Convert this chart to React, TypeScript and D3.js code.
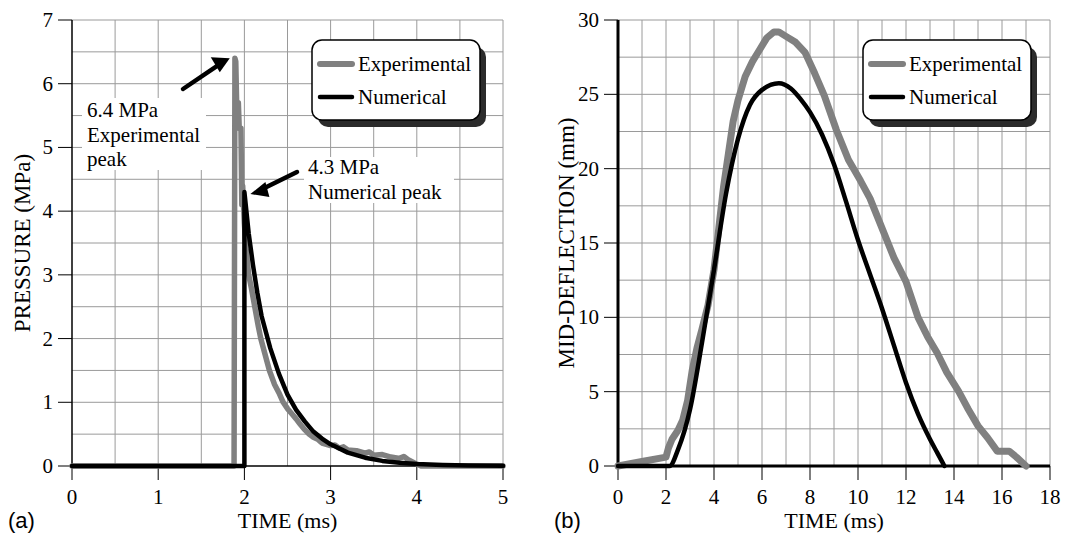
import React from "react";
import * as d3 from "d3";

// tick labels
const timeTicksA = [0, 1, 2, 3, 4, 5];
const pressureTicks = [0, 1, 2, 3, 4, 5, 6, 7];
const timeTicksB = [0, 2, 4, 6, 8, 10, 12, 14, 16, 18];
const deflectionTicks = [0, 5, 10, 15, 20, 25, 30];

// (a) pressure, [time ms, MPa]
const expPressure: [number, number][] = [
  [0, 0], [1.88, 0], [1.89, 6.4], [1.9, 6.35], [1.91, 5.7], [1.93, 5.7], [1.94, 5.3],
  [1.96, 5.3], [1.97, 4.1], [1.98, 4.4], [2.0, 3.8], [2.02, 3.4], [2.05, 3.0], [2.08, 2.8],
  [2.12, 2.5], [2.16, 2.2], [2.19, 2.0], [2.24, 1.75], [2.29, 1.5], [2.35, 1.28], [2.4, 1.15],
  [2.45, 1.0], [2.5, 0.9], [2.55, 0.82], [2.6, 0.74], [2.65, 0.65], [2.7, 0.57], [2.75, 0.5],
  [2.8, 0.45], [2.85, 0.42], [2.9, 0.36], [2.95, 0.34], [3.0, 0.32], [3.05, 0.33], [3.1, 0.28],
  [3.15, 0.3], [3.2, 0.25], [3.3, 0.24], [3.4, 0.2], [3.45, 0.22], [3.5, 0.17], [3.6, 0.18],
  [3.7, 0.14], [3.8, 0.12], [3.85, 0.15], [3.9, 0.1], [4.0, 0.03], [4.05, 0], [5, 0],
];
const numPressure: [number, number][] = [
  [0, 0], [2.0, 0], [2.0, 4.3], [2.05, 3.65], [2.1, 3.15], [2.15, 2.72], [2.2, 2.35],
  [2.3, 1.85], [2.4, 1.45], [2.5, 1.12], [2.6, 0.88], [2.7, 0.7], [2.8, 0.54], [2.9, 0.43],
  [3.0, 0.34], [3.2, 0.21], [3.4, 0.13], [3.6, 0.08], [3.8, 0.05], [4.0, 0.03],
  [4.3, 0.015], [4.6, 0.006], [5.0, 0.002],
];

// (b) mid-deflection, [time ms, mm]
const expDeflection: [number, number][] = [
  [0, 0], [1, 0.3], [2, 0.6], [2.1, 1.2], [2.25, 1.8], [2.5, 2.4], [2.7, 3.1], [2.9, 4.4],
  [3.1, 6.5], [3.3, 8.0], [3.5, 9.2], [3.75, 10.8], [4.0, 13.2], [4.2, 16.0], [4.4, 18.8],
  [4.6, 21.0], [4.8, 23.2], [5.0, 24.6], [5.3, 26.2], [5.6, 27.2], [5.9, 28.0], [6.2, 28.8],
  [6.5, 29.2], [6.7, 29.2], [7.0, 28.9], [7.4, 28.5], [7.8, 27.8], [8.2, 26.4], [8.6, 24.9],
  [9.1, 22.6], [9.6, 20.6], [10.1, 19.2], [10.5, 18.0], [11.0, 16.0], [11.5, 14.0],
  [12.0, 12.4], [12.5, 10.0], [12.9, 8.7], [13.3, 7.6], [13.7, 6.3], [14.2, 5.0], [14.6, 3.8],
  [15.0, 2.7], [15.4, 1.9], [15.8, 1.0], [16.3, 1.0], [16.6, 0.6], [17.0, 0],
];
const numDeflection: [number, number][] = [
  [0, 0], [2.15, 0], [2.5, 1.1], [3.0, 3.8], [3.5, 8.3], [4.0, 13.2], [4.5, 18.3],
  [5.0, 22.0], [5.5, 24.3], [6.0, 25.3], [6.7, 25.75], [7.2, 25.4], [7.6, 24.7], [8.0, 23.8],
  [8.5, 22.3], [9.0, 20.3], [9.5, 17.8], [10.0, 15.2], [10.5, 12.9], [11.0, 10.6],
  [11.5, 8.1], [12.0, 5.6], [12.5, 3.5], [13.0, 1.8], [13.3, 0.9], [13.6, 0],
];

const GRAY = "#808080";
const SERIF = "'Liberation Serif', 'Times New Roman', serif";
const SANS = "'Liberation Sans', Arial, sans-serif";
const TOP = 20;
const BOTTOM = 466;

function Legend({ x, y }: { x: number; y: number }) {
  const w = 168, h = 80;
  return (
    <g transform={`translate(${x},${y})`}>
      <rect x={6} y={7} width={w} height={h} rx={10} fill="#2b2b2b" />
      <rect x={0} y={0} width={w} height={h} rx={10} fill="#fff" stroke="#000" strokeWidth={1.5} />
      <line x1={8} x2={40} y1={24} y2={24} stroke={GRAY} strokeWidth={6} strokeLinecap="round" />
      <line x1={8} x2={40} y1={57} y2={57} stroke="#000" strokeWidth={4.5} strokeLinecap="round" />
      <text x={46} y={31} fontFamily={SERIF} fontSize={21}>Experimental</text>
      <text x={46} y={64} fontFamily={SERIF} fontSize={21}>Numerical</text>
    </g>
  );
}

type PanelProps = {
  left: number; right: number; xMax: number; yMax: number;
  xTicks: number[]; yTicks: number[]; xStep: number; yStep: number;
  exp: [number, number][]; num: [number, number][]; smoothNum: boolean;
  yTitle: string; tag: string; tagX: number; titleX: number; legendX: number;
  expWidth: number; numWidth: number; yAxisWidth: number;
  extra?: (x: d3.ScaleLinear<number, number>, y: d3.ScaleLinear<number, number>) => React.ReactNode;
};

function Panel(p: PanelProps) {
  const x = d3.scaleLinear().domain([0, p.xMax]).range([p.left, p.right]);
  const y = d3.scaleLinear().domain([0, p.yMax]).range([BOTTOM, TOP]);
  const line = d3.line<[number, number]>().x((d) => x(d[0])).y((d) => y(d[1]));
  const numLine = d3.line<[number, number]>().x((d) => x(d[0])).y((d) => y(d[1]))
    .curve(p.smoothNum ? d3.curveMonotoneX : d3.curveLinear);
  const gx = d3.range(p.xStep, p.xMax + 1e-9, p.xStep);
  const gy = d3.range(p.yStep, p.yMax + 1e-9, p.yStep);
  const cx = (p.left + p.right) / 2;
  return (
    <g>
      {gx.map((v) => (
        <line key={"gx" + v} x1={x(v)} x2={x(v)} y1={TOP} y2={BOTTOM} stroke="#9a9a9a" strokeWidth={1} />
      ))}
      {gy.map((v) => (
        <line key={"gy" + v} x1={p.left} x2={p.right} y1={y(v)} y2={y(v)} stroke="#9a9a9a" strokeWidth={1} />
      ))}
      {p.extra && p.extra(x, y)}
      <line x1={p.left} x2={p.right} y1={BOTTOM} y2={BOTTOM} stroke="#000" strokeWidth={p.yAxisWidth} />
      <line x1={p.left} x2={p.left} y1={TOP} y2={BOTTOM} stroke="#000" strokeWidth={p.yAxisWidth} />
      {p.yTicks.map((v) => (
        <g key={"yt" + v}>
          <line x1={p.left - 14} x2={p.left} y1={y(v)} y2={y(v)} stroke="#000" strokeWidth={1} />
          <text x={p.left - 19} y={y(v) + 7} textAnchor="end" fontFamily={SERIF} fontSize={21}>{v}</text>
        </g>
      ))}
      {p.xTicks.map((v) => (
        <g key={"xt" + v}>
          <line x1={x(v)} x2={x(v)} y1={BOTTOM} y2={BOTTOM + 14} stroke="#000" strokeWidth={1} />
          <text x={x(v)} y={BOTTOM + 38} textAnchor="middle" fontFamily={SERIF} fontSize={21}>{v}</text>
        </g>
      ))}
      <path d={line(p.exp) || ""} fill="none" stroke={GRAY} strokeWidth={p.expWidth} strokeLinejoin="round" strokeLinecap="round" />
      <path d={numLine(p.num) || ""} fill="none" stroke="#000" strokeWidth={p.numWidth} strokeLinejoin="round" strokeLinecap="round" />
      <text x={cx} y={528} textAnchor="middle" fontFamily={SERIF} fontSize={22}>TIME (ms)</text>
      <text transform={`translate(${p.titleX},${(TOP + BOTTOM) / 2}) rotate(-90)`} textAnchor="middle" fontFamily={SERIF} fontSize={23}>
        {p.yTitle}
      </text>
      <text x={p.tagX} y={528} fontFamily={SANS} fontSize={22}>{p.tag}</text>
      <Legend x={p.legendX} y={40} />
    </g>
  );
}

function pressureNotes(x: d3.ScaleLinear<number, number>, y: d3.ScaleLinear<number, number>) {
  const tip1x = x(1.9) - 6, tip1y = y(6.4);
  const tip2x = x(2.0) + 6, tip2y = y(4.3) + 2;
  return (
    <g fontFamily={SERIF} fontSize={21}>
      <rect x={82} y={98} width={124} height={72} fill="#fff" />
      <text x={87} y={117}>6.4 MPa</text>
      <text x={87} y={142}>Experimental</text>
      <text x={87} y={166}>peak</text>
      <rect x={304} y={157} width={150} height={46} fill="#fff" />
      <text x={308} y={174}>4.3 MPa</text>
      <text x={308} y={199}>Numerical peak</text>
      <line x1={183} y1={89} x2={tip1x - 10} y2={tip1y + 6} stroke="#000" strokeWidth={4.5} strokeLinecap="round" />
      <polygon points={`${tip1x},${tip1y} ${tip1x - 19},${tip1y - 1} ${tip1x - 10},${tip1y + 14}`} fill="#000" />
      <line x1={297} y1={172} x2={tip2x + 10} y2={tip2y - 4} stroke="#000" strokeWidth={4.5} strokeLinecap="round" />
      <polygon points={`${tip2x},${tip2y} ${tip2x + 15},${tip2y - 12} ${tip2x + 19},${tip2y + 3}`} fill="#000" />
    </g>
  );
}

export default function App() {
  return (
    <svg width={1078} height={534} style={{ position: "absolute", left: 0, top: 0, background: "#fff" }}>
      <rect width={1078} height={534} fill="#fff" />
      <Panel
        left={72} right={503} xMax={5} yMax={7}
        xTicks={timeTicksA} yTicks={pressureTicks} xStep={0.5} yStep={0.5}
        exp={expPressure} num={numPressure} smoothNum={false}
        yTitle="PRESSURE (MPa)" tag="(a)" tagX={8} titleX={30} legendX={312}
        expWidth={5.5} numWidth={4.5} yAxisWidth={1.5}
        extra={pressureNotes}
      />
      <Panel
        left={618} right={1050} xMax={18} yMax={30}
        xTicks={timeTicksB} yTicks={deflectionTicks} xStep={1} yStep={2.5}
        exp={expDeflection} num={numDeflection} smoothNum={true}
        yTitle="MID-DEFLECTION (mm)" tag="(b)" tagX={554} titleX={574} legendX={863}
        expWidth={7} numWidth={4.5} yAxisWidth={3}
      />
    </svg>
  );
}
